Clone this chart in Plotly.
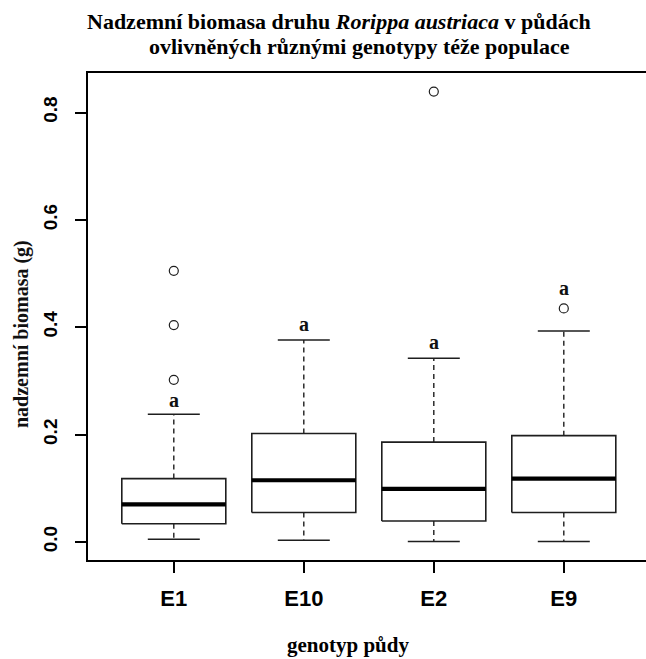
import plotly.graph_objects as go

# ---- data ----
groups = ["E1", "E10", "E2", "E9"]
lower_whisker = [0.005, 0.003, 0.001, 0.001]
q1 = [0.034, 0.055, 0.039, 0.055]
median = [0.070, 0.115, 0.099, 0.118]
q3 = [0.118, 0.202, 0.186, 0.198]
upper_whisker = [0.238, 0.376, 0.342, 0.393]
outlier_groups = [1, 1, 1, 3, 4]
outlier_values = [0.505, 0.404, 0.302, 0.839, 0.435]
letters = ["a", "a", "a", "a"]
letter_y = [0.265, 0.406, 0.373, 0.473]
y_ticks = [0.0, 0.2, 0.4, 0.6, 0.8]
y_tick_text = ["0.0", "0.2", "0.4", "0.6", "0.8"]

# ---- layout geometry (pixels) ----
W, H = 646, 659
L, R, T, B = 88, 0, 73, 99
PW, PH = W - L - R, H - T - B


def px(xp):
    return (xp - L) / PW


def py(yp):
    return (H - B - yp) / PH


BOXW = 0.4
STAPLE = 0.2
LINEC = "#1e1e1e"

pos = list(range(1, len(groups) + 1))

bx, by = [], []
mx, my = [], []
wx, wy = [], []
sx, sy = [], []
for i, p in enumerate(pos):
    bx += [p - BOXW, p + BOXW, p + BOXW, p - BOXW, p - BOXW, None]
    by += [q1[i], q1[i], q3[i], q3[i], q1[i], None]
    mx += [p - BOXW, p + BOXW, None]
    my += [median[i], median[i], None]
    wx += [p, p, None, p, p, None]
    wy += [q3[i], upper_whisker[i], None, q1[i], lower_whisker[i], None]
    sx += [p - STAPLE, p + STAPLE, None, p - STAPLE, p + STAPLE, None]
    sy += [upper_whisker[i], upper_whisker[i], None, lower_whisker[i], lower_whisker[i], None]

fig = go.Figure()
fig.add_trace(go.Scatter(x=wx, y=wy, mode="lines", line=dict(color=LINEC, width=1.4, dash="5px,4px"),
                         hoverinfo="skip", showlegend=False))
fig.add_trace(go.Scatter(x=sx, y=sy, mode="lines", line=dict(color=LINEC, width=1.5),
                         hoverinfo="skip", showlegend=False))
fig.add_trace(go.Scatter(x=bx, y=by, mode="lines", line=dict(color=LINEC, width=1.6),
                         fill="toself", fillcolor="white", hoverinfo="skip", showlegend=False))
fig.add_trace(go.Scatter(x=mx, y=my, mode="lines", line=dict(color="black", width=4.2),
                         hoverinfo="skip", showlegend=False))
fig.add_trace(go.Scatter(x=outlier_groups, y=outlier_values, mode="markers",
                         marker=dict(symbol="circle-open", size=9, color=LINEC, line=dict(width=1.2)),
                         hoverinfo="skip", showlegend=False))

annotations = []
for i, p in enumerate(pos):
    annotations.append(dict(x=p, y=letter_y[i], xref="x", yref="y", text="<b>" + letters[i] + "</b>",
                            showarrow=False, font=dict(family="Liberation Serif", size=20, color="#111"),
                            xanchor="center", yanchor="middle"))

title_font = dict(family="Liberation Serif", size=22, color="black")
annotations.append(dict(x=px(85), y=py(30), xref="paper", yref="paper",
                        text="<b>Nadzemní biomasa druhu <i>Rorippa austriaca</i> v půdách</b>",
                        showarrow=False, font=title_font, xanchor="left", yanchor="bottom", yshift=-6))
annotations.append(dict(x=px(147), y=py(55), xref="paper", yref="paper",
                        text="<b>ovlivněných různými genotypy téže populace</b>",
                        showarrow=False, font=title_font, xanchor="left", yanchor="bottom", yshift=-6))
annotations.append(dict(x=px(348), y=py(645), xref="paper", yref="paper",
                        text="<b>genotyp půdy</b>", showarrow=False,
                        font=dict(family="Liberation Serif", size=21, color="black"),
                        xanchor="center", yanchor="middle"))
annotations.append(dict(x=px(21), y=py(334), xref="paper", yref="paper",
                        text="<b>nadzemní biomasa (g)</b>", showarrow=False, textangle=-90,
                        font=dict(family="Liberation Serif", size=20, color="#111"),
                        xanchor="center", yanchor="middle"))

fig.update_layout(
    width=W, height=H,
    margin=dict(l=L, r=R, t=T, b=B, pad=0),
    paper_bgcolor="white", plot_bgcolor="white",
    annotations=annotations,
    showlegend=False,
)
fig.update_xaxes(range=[0.34, 0.34 + PW / 130.0], tickvals=pos, ticktext=groups,
                 showgrid=False, zeroline=False, showline=True, mirror=True,
                 linecolor="black", linewidth=1.5, ticks="outside", ticklen=11,
                 tickcolor="black", tickwidth=1.5,
                 tickfont=dict(family="Liberation Sans", size=22, color="black", weight="bold"),
                 ticklabelstandoff=7)
fig.update_yaxes(range=[-0.0336, 0.8736], tickvals=y_ticks, ticktext=y_tick_text,
                 showgrid=False, zeroline=False, showline=True, mirror=False,
                 linecolor="black", linewidth=1.5, ticks="outside", ticklen=11,
                 tickcolor="black", tickwidth=1.5, tickangle=-90,
                 tickfont=dict(family="Liberation Sans", size=19, color="black", weight="bold"),
                 ticklabelstandoff=11)

fig.write_html("out.html")
